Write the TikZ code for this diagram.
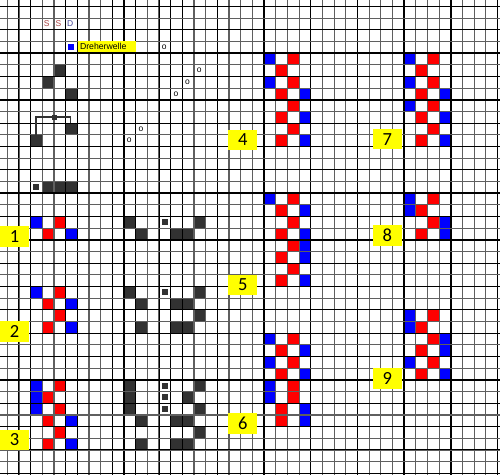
\documentclass[tikz,border=0pt]{standalone}
\usepackage{fontspec}
\setmainfont{Liberation Sans}
\newfontfamily\numfont{Carlito}
\definecolor{cblue}{RGB}{0,0,255}
\definecolor{cred}{RGB}{255,0,0}
\definecolor{cdark}{RGB}{50,50,50}
\definecolor{cyel}{RGB}{255,255,0}
\definecolor{sred}{RGB}{170,70,70}
\definecolor{dblue}{RGB}{70,70,150}
\definecolor{glight}{RGB}{95,95,95}
\begin{document}
\begin{tikzpicture}[x=1pt,y=-1pt,
  cellfill/.style={fill=#1},
  thinline/.style={draw=glight,line width=1.1pt},
  darkline/.style={draw=black,line width=1.0pt},
  thickline/.style={draw=black,line width=1.5pt},
  lab/.style={fill=cyel,minimum width=29pt,minimum height=20.5pt,inner sep=0pt,
    font=\numfont\fontsize{18.5}{18.5}\selectfont},
  smallsq/.style={fill=cdark,minimum size=6pt,inner sep=0pt},
  otext/.style={inner sep=0pt,font=\fontsize{8.5}{8.5}\selectfont},
  hdr/.style={inner sep=0pt,font=\fontsize{8.5}{8.5}\selectfont}]
\useasboundingbox (0,0) rectangle (500,475);
\fill[white] (0,0) rectangle (500,475);
% blue cells
\foreach \c/\r in {2/18,5/19, 2/24,5/25,5/27, 2/32,2/33,2/34,5/35,5/37,
  22/4,22/6,25/7,25/9,25/11,
  22/16,25/17,25/19,25/20,25/21,25/23,
  22/28,25/29,22/30,25/31,22/32,22/33,25/34,25/35,
  34/4,34/6,37/7,34/8,37/9,37/11,
  34/16,34/17,37/18,37/19,
  34/26,34/27,37/28,37/29,34/30,37/31}
  \fill[cellfill=cblue] ({7.3+\c*11.67},{6.5+\r*11.67}) rectangle ++(11.67,11.67);
% red cells
\foreach \c/\r in {4/18,3/19, 4/24,3/25,4/26,3/27, 4/32,3/33,4/34,3/35,4/36,3/37,
  24/4,23/5,24/6,23/7,24/8,23/9,24/10,23/11,
  24/16,23/17,24/18,23/19,24/20,23/21,24/22,23/23,
  24/28,23/29,24/30,23/31,24/32,24/33,23/34,23/35,
  36/4,35/5,36/6,35/7,36/8,35/9,36/10,35/11,
  36/16,35/17,36/18,35/19,
  36/26,35/27,36/28,35/29,36/30,35/31}
  \fill[cellfill=cred] ({7.3+\c*11.67},{6.5+\r*11.67}) rectangle ++(11.67,11.67);
% dark cells
\foreach \c/\r in {4/5,3/6,5/7,5/10,2/11,3/15,4/15,5/15,
  10/18,16/18,11/19,14/19,15/19,
  10/24,16/24,11/25,14/25,15/25,16/26,11/27,14/27,15/27,
  10/32,10/33,10/34,16/32,15/33,16/34,11/35,14/35,15/35,16/36,11/37,14/37,15/37}
  \fill[cellfill=cdark] ({7.3+\c*11.67},{6.5+\r*11.67}) rectangle ++(11.67,11.67);
% grid
\foreach \i in {0,...,42} \draw[thinline] ({7.3+\i*11.67},0) -- ++(0,475);
\foreach \i in {1,5,9,11,13,15} \draw[darkline] ({7.3+\i*11.67},0) -- ++(0,475);
\foreach \i in {2,6,...,42} \draw[thickline] ({7.3+\i*11.67},0) -- ++(0,475);
\foreach \j in {0,...,40} \draw[thinline] (0,{6.5+\j*11.67}) -- ++(500,0);
\foreach \j in {2,6,...,38} \draw[darkline] (0,{6.5+\j*11.67}) -- ++(500,0);
\foreach \j in {0,4,...,40} \draw[thickline] (0,{6.5+\j*11.67}) -- ++(500,0);
% small squares
\foreach \c/\r in {2/15,13/18,13/24,13/32,13/33,13/34}
  \node[smallsq] (sq-\c-\r) at ({7.3+(\c+0.5)*11.67},{6.5+(\r+0.5)*11.67}) {};
% o marks
\foreach \c/\r in {13/3,16/5,15/6,14/7,11/10,10/11}
  \node[otext] (o-\c-\r) at ({7.3+(\c+0.45)*11.67},{6.5+(\r+0.5)*11.67}) {o};
% header
\node[hdr,text=sred] (s1) at (46.8,23.6) {S};
\node[hdr,text=sred] (s2) at (58.5,23.6) {S};
\node[hdr,text=dblue] (d1) at (70.3,23.6) {D};
\node[fill=cblue,minimum size=5.8pt,inner sep=0pt] (legsq) at (71.3,47.0) {};
\node[fill=cyel,inner xsep=2.5pt,inner ysep=0pt,minimum height=11.6pt,text width=53.5pt,
  align=left,anchor=west,font=\fontsize{8.7}{8.7}\selectfont] (dw) at (77.3,46.6) {Dreherwelle};
% bracket
\coordinate (bl) at (36,134.9);
\coordinate (br) at (70.5,123.2);
\coordinate (bt) at (54,117.3);
\draw[cdark,line width=1.8pt] (bl) |- (bt) -| (br);
\node[fill=cdark,minimum size=5pt,inner sep=0pt] (btsq) at (bt) {};
% labels
\node[lab] (l1) at (14.65,236.3) {1};
\node[lab] (l2) at (14.65,331.7) {2};
\node[lab] (l3) at (14.65,440) {3};
\node[lab] (l4) at (242.8,140) {4};
\node[lab] (l5) at (242.8,285) {5};
\node[lab] (l6) at (242.8,423.7) {6};
\node[lab] (l7) at (387.2,139.2) {7};
\node[lab] (l8) at (387.2,235.3) {8};
\node[lab] (l9) at (387.2,378.7) {9};
\end{tikzpicture}
\end{document}
